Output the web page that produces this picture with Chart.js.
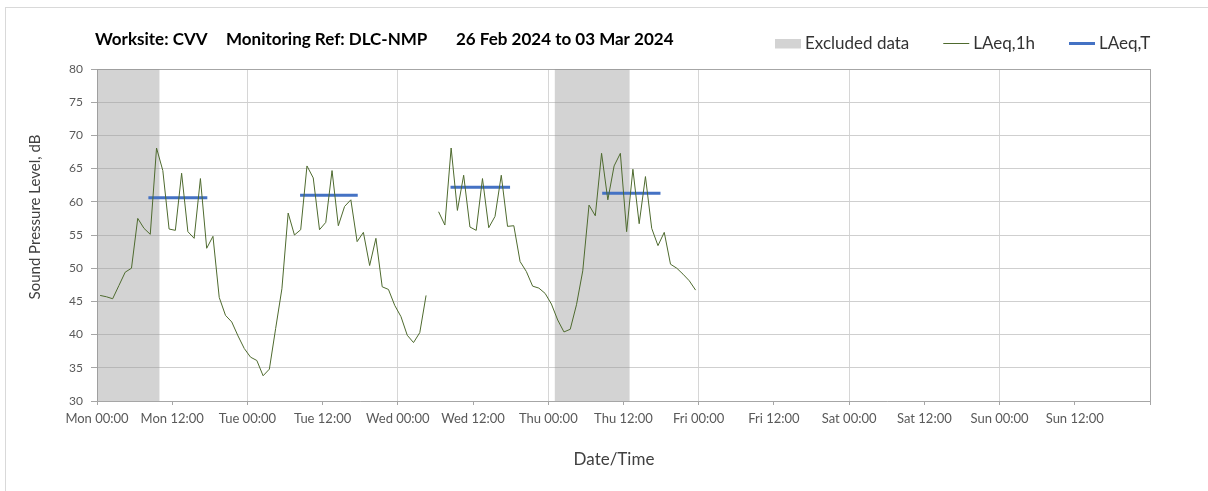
<!DOCTYPE html>
<html><head><meta charset="utf-8">
<script src="https://cdn.jsdelivr.net/npm/chart.js@4.4.1/dist/chart.umd.min.js"></script>
<style>
html,body{margin:0;padding:0;background:#fff;}
#wrap{position:relative;width:1208px;height:491px;overflow:hidden;}
#frame{position:absolute;left:5px;top:7px;width:1400px;height:700px;border-left:1px solid #d9d9d9;border-top:1px solid #d9d9d9;}
canvas{position:absolute;left:0;top:0;}
</style></head>
<body><div id="wrap"><div id="frame"></div><canvas id="c" width="1208" height="491"></canvas></div>
<script>
// ---- data ----
const titleParts = ['Worksite: CVV', 'Monitoring Ref: DLC-NMP', '26 Feb 2024 to 03 Mar 2024'];
const xAxisTitle = 'Date/Time';
const yAxisTitle = 'Sound Pressure Level, dB';
const xTickLabels = ['Mon 00:00','Mon 12:00','Tue 00:00','Tue 12:00','Wed 00:00','Wed 12:00','Thu 00:00',
  'Thu 12:00','Fri 00:00','Fri 12:00','Sat 00:00','Sat 12:00','Sun 00:00','Sun 12:00'];
// hourly LAeq,1h values, hour 0 = Mon 26 Feb 00:00
const laeq1h = [45.9,45.7,45.4,47.4,49.4,50.0,57.5,56.0,55.1,68.1,64.7,55.9,55.7,64.3,55.5,54.5,63.5,53.0,54.8,45.6,
  42.9,41.9,39.8,37.9,36.6,36.1,33.8,34.8,40.9,46.9,58.3,55.0,55.8,65.4,63.6,55.8,56.9,64.7,56.4,59.3,
  60.3,54.0,55.4,50.4,54.5,47.2,46.8,44.4,42.7,39.9,38.8,40.3,45.9,null,58.5,56.5,68.1,58.7,64.0,56.2,
  55.7,63.5,56.1,57.8,64.0,56.3,56.4,51.0,49.5,47.3,47.0,46.2,44.6,42.2,40.4,40.8,44.5,49.6,59.5,57.9,
  67.3,60.3,65.4,67.3,55.5,64.9,56.7,63.8,56.0,53.4,55.4,50.6,50.0,49.1,48.1,46.7];
// LAeq,T daytime periods (hours from Mon 00:00) and levels
const laeqTStart = [8.2, 32.4, 56.4, 80.6];
const laeqTEnd   = [17.6, 41.6, 65.9, 89.9];
const laeqT      = [60.6, 61.0, 62.2, 61.3];
// excluded periods (hours from Mon 00:00)
const excludedStart = [0, 73];
const excludedEnd   = [10, 85];

// ---- styles ----
const FONT = 'Lato, "Open Sans", sans-serif';
const GREEN = '#4e6a2e', BLUE = '#4472c4', SHADE = 'rgba(150,150,150,0.42)', SHADE_KEY = '#d3d3d3';

const datasets = [];
excludedStart.forEach((s, i) => {
  datasets.push({
    label: i === 0 ? 'Excluded data' : '',
    data: [{x: s, y: 80}, {x: excludedEnd[i], y: 80}],
    fill: 'start', backgroundColor: SHADE, borderWidth: 0, pointRadius: 0,
    keyType: 'rect', keyColor: SHADE_KEY
  });
});
datasets.push({
  label: 'LAeq,1h',
  data: laeq1h.map((v, i) => ({x: i + 0.5, y: v})),
  borderColor: GREEN, borderWidth: 1, pointRadius: 0, fill: false, tension: 0,
  keyType: 'line', keyColor: GREEN, keyWidth: 1
});
const tPts = [];
laeqT.forEach((v, i) => {
  tPts.push({x: laeqTStart[i], y: v}, {x: laeqTEnd[i], y: v}, {x: laeqTEnd[i], y: null});
});
datasets.push({
  label: 'LAeq,T', data: tPts,
  borderColor: BLUE, borderWidth: 3, pointRadius: 0, fill: false, borderCapStyle: 'butt',
  keyType: 'line', keyColor: BLUE, keyWidth: 3
});

const decor = {
  id: 'decor',
  afterDraw(chart) {
    const ctx = chart.ctx;
    ctx.save();
    ctx.textBaseline = 'middle';
    // title
    ctx.fillStyle = '#000';
    ctx.font = 'bold 17px ' + FONT;
    const tx = [95, 226, 456];
    titleParts.forEach((t, i) => ctx.fillText(t, tx[i], 40));
    // legend
    ctx.font = '17px ' + FONT;
    let x = 775; const ly = 43.5;
    chart.data.datasets.filter(d => d.label).forEach(d => {
      if (d.keyType === 'rect') {
        ctx.fillStyle = d.keyColor; ctx.fillRect(x, ly - 4.5, 26, 9.5);
      } else {
        ctx.strokeStyle = d.keyColor; ctx.lineWidth = d.keyWidth;
        ctx.beginPath(); ctx.moveTo(x, ly); ctx.lineTo(x + 26, ly); ctx.stroke();
      }
      ctx.fillStyle = '#333';
      ctx.textAlign = 'left';
      ctx.fillText(d.label, x + 30, ly);
      x += 30 + ctx.measureText(d.label).width + 34;
    });
    // axis titles
    ctx.fillStyle = '#404040'; ctx.textAlign = 'center';
    ctx.font = '17px ' + FONT;
    ctx.fillText(xAxisTitle, 614, 460);
    ctx.font = '15px ' + FONT;
    ctx.translate(35, 217); ctx.rotate(-Math.PI / 2);
    ctx.fillText(yAxisTitle, 0, 0);
    ctx.restore();
  }
};

new Chart(document.getElementById('c'), {
  type: 'line',
  data: {datasets},
  plugins: [decor],
  options: {
    responsive: false, animation: false,
    layout: {padding: {top: 69, right: 58, left: 0, bottom: 0}},
    plugins: {legend: {display: false}, tooltip: {enabled: false}, filler: {drawTime: 'beforeDatasetsDraw'}},
    scales: {
      x: {
        type: 'linear', min: 0, max: 168,
        afterFit: s => { s.height = 90; },
        ticks: {stepSize: 12, autoSkip: false, maxRotation: 0, padding: 6,
          color: '#595959', font: {family: FONT, size: 13},
          callback: v => (v % 12 === 0 && xTickLabels[v / 12]) ? xTickLabels[v / 12] : ''},
        grid: {
          color: c => (c.tick && c.tick.value === 168) ? '#a6a6a6' : ((c.tick && c.tick.value % 24 === 0) ? '#d6d6d6' : 'rgba(0,0,0,0)'),
          tickColor: '#a6a6a6', tickLength: 4, lineWidth: 1
        },
        border: {display: true, color: '#a6a6a6', width: 1}
      },
      y: {
        min: 30, max: 80,
        afterFit: s => { s.width = 97; },
        ticks: {stepSize: 5, padding: 8, color: '#595959', font: {family: FONT, size: 12}},
        grid: {
          color: c => (c.tick && c.tick.value === 80) ? '#a6a6a6' : '#cfcfcf',
          tickColor: '#a6a6a6', tickLength: 6, lineWidth: 1
        },
        border: {display: true, color: '#a6a6a6', width: 1}
      }
    }
  }
});
</script>
</body></html>
